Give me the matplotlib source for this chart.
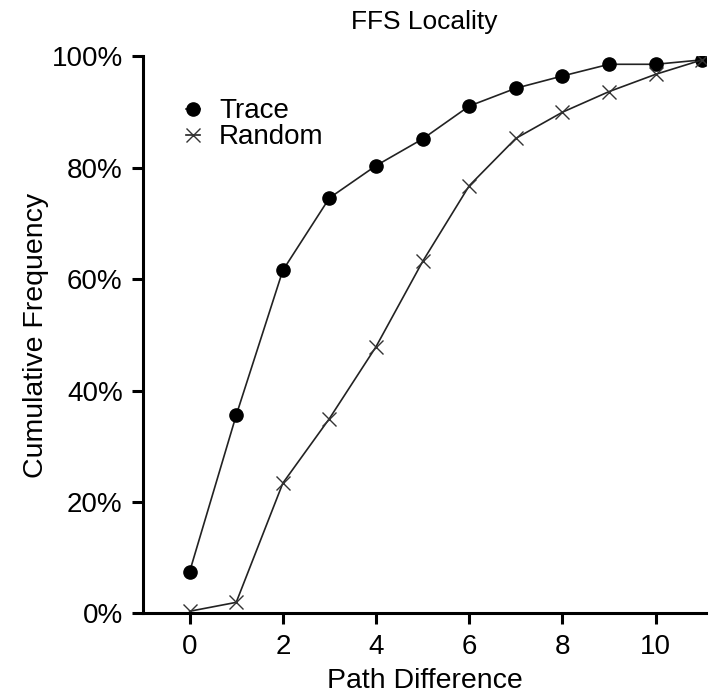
import matplotlib
matplotlib.use("Agg")
import matplotlib.pyplot as plt
from matplotlib.ticker import FuncFormatter

plt.rcParams['font.family'] = ['Liberation Sans', 'DejaVu Sans']

path_diff = [0, 1, 2, 3, 4, 5, 6, 7, 8, 9, 10, 11]
trace = [7.5, 35.6, 61.6, 74.6, 80.4, 85.2, 91.1, 94.3, 96.5, 98.6, 98.6, 99.4]
random_ = [0.4, 2.0, 23.4, 35.0, 47.9, 63.2, 76.8, 85.3, 90.0, 93.7, 96.8, 99.4]
xticks = [0, 2, 4, 6, 8, 10]
yticks = [0, 20, 40, 60, 80, 100]

fig = plt.figure(figsize=(7.16, 6.94), dpi=100)
ax_left, ax_bottom, ax_w, ax_h = 0.2004, 0.116, 0.7856, 0.8026
ax = fig.add_axes([ax_left, ax_bottom, ax_w, ax_h])

ax.plot(path_diff, trace, color='#222222', lw=1.2, marker='o', markersize=9.5,
        markerfacecolor='black', markeredgecolor='black', label='Trace')
ax.plot(path_diff, random_, color='#222222', lw=1.2, marker='x', markersize=10,
        markeredgewidth=1.0, markeredgecolor='#333333', label='Random')

ax.set_xlim(-0.99, 11.08)
ax.set_ylim(0, 100)
ax.set_xticks(xticks)
ax.set_yticks(yticks)
ax.yaxis.set_major_formatter(FuncFormatter(lambda v, p: f"{int(v)}%"))

for s in ['top', 'right']:
    ax.spines[s].set_visible(False)
for s in ['left', 'bottom']:
    ax.spines[s].set_linewidth(2.2)
ax.tick_params(axis='both', direction='out', length=8, width=2.2, labelsize=20, pad=7)

ax.set_xlabel('Path Difference', fontsize=20.5, labelpad=5.5)
ax.set_ylabel('Cumulative Frequency', fontsize=20.5, labelpad=1.5)
fig.text(ax_left + ax_w / 2, 1 - 22 / 694, 'FFS Locality', fontsize=19,
         ha='center', va='center')

leg = ax.legend(loc='upper left', bbox_to_anchor=(0.075, 0.925), frameon=False, fontsize=20,
                handlelength=0.5, handletextpad=0.7, labelspacing=0.0, borderaxespad=0.0,
                borderpad=0.0)

fig.savefig('out.png', dpi=100)
